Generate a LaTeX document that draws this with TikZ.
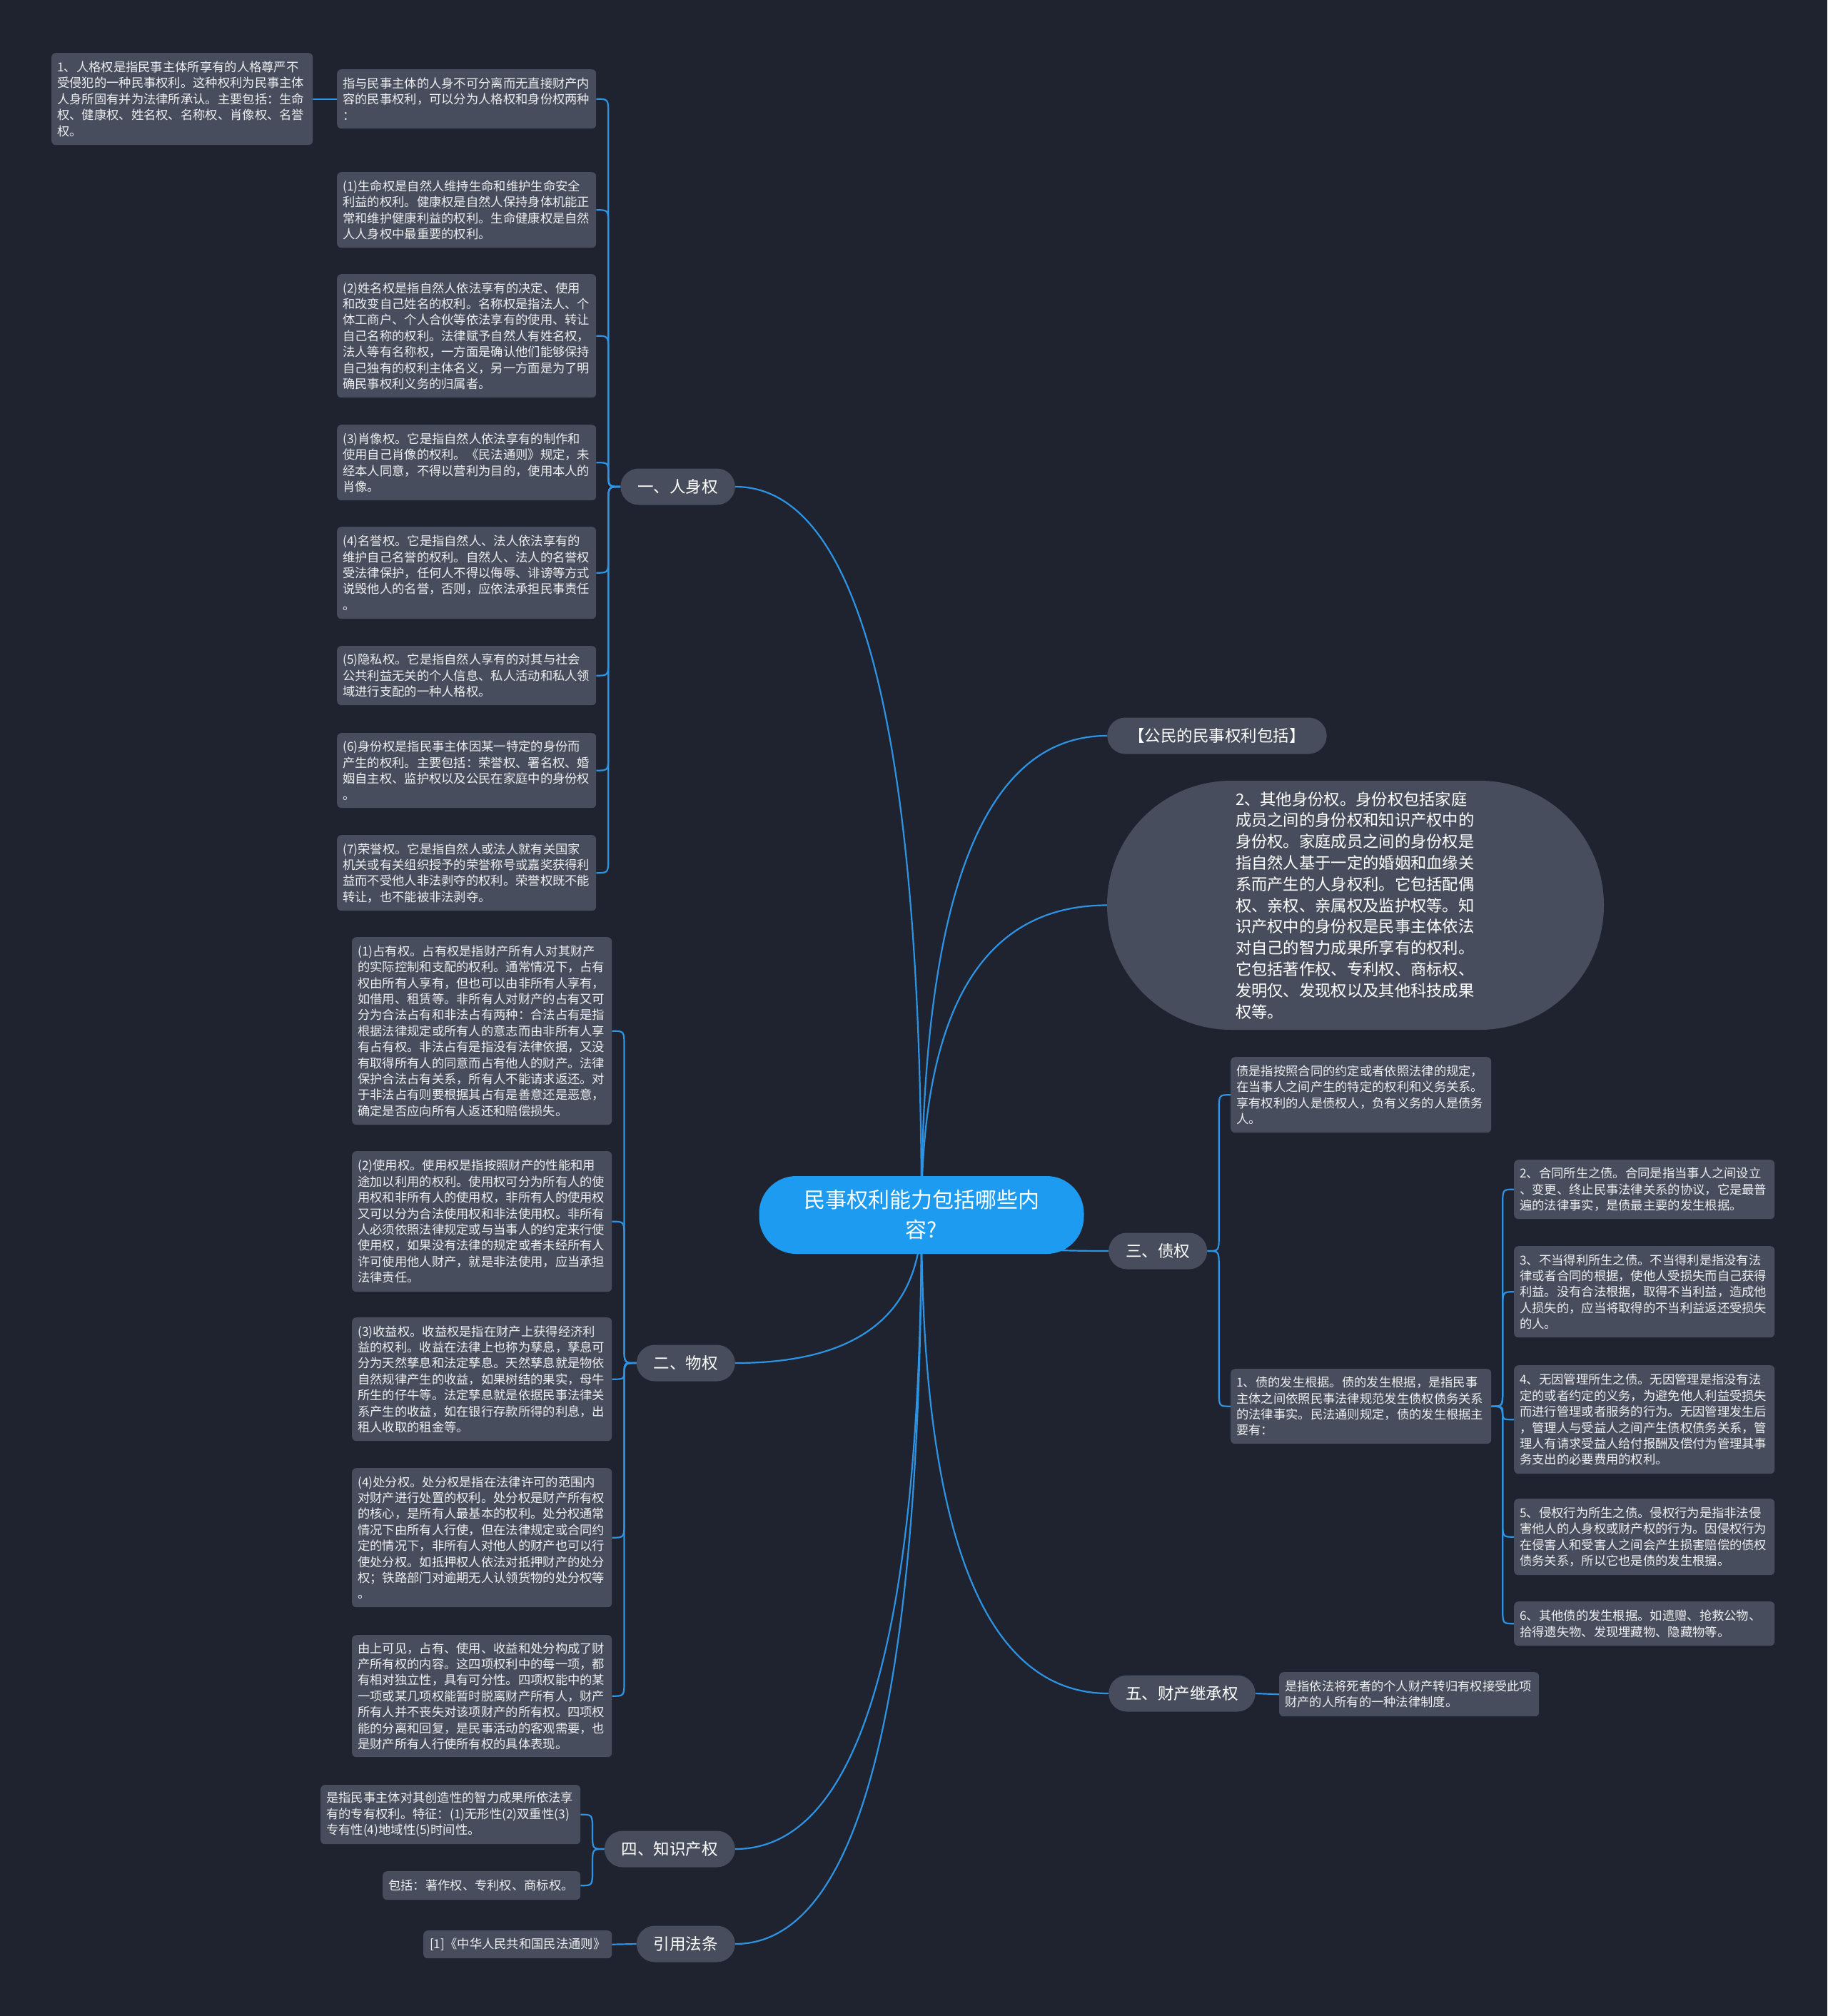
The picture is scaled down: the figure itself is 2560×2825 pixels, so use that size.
\documentclass[tikz,border=0pt]{standalone}
\usepackage{fontspec}
\setmainfont{Noto Sans CJK SC}
\usetikzlibrary{calc}
\definecolor{bgc}{HTML}{1F2330}
\definecolor{boxc}{HTML}{474D5C}
\definecolor{linec}{HTML}{2D93E3}
\definecolor{mainc}{HTML}{1D9BF0}
\definecolor{txtc}{HTML}{EDEEF0}
\pgfdeclarelayer{bglayer}
\pgfdeclarelayer{edgelayer}
\pgfsetlayers{bglayer,edgelayer,main}
\begin{document}
\begin{tikzpicture}[x=1pt,y=-1pt,
  box/.style={rectangle, rounded corners=6pt, fill=boxc, text=txtc, anchor=north west, align=left,
    inner xsep=8pt, inner ysep=3pt, font=\fontsize{17.3}{22.4}\selectfont},
  lvl/.style={rectangle, rounded corners=25.5pt, fill=boxc, text=white, minimum height=51pt,
    inner xsep=24pt, inner ysep=0pt, font=\fontsize{22.5}{28}\selectfont},
  edge/.style={draw=linec, line width=2.2pt},
  elbow/.style={to path={let \p1=(\tikztostart), \p2=(\tikztotarget),
      \n1={0.5*(\x1+\x2)}, \n2={sign(\y2-\y1)*min(22,0.5*abs(\y2-\y1))} in
      .. controls ({\n1*1pt},{\y1}) .. ({\n1*1pt},{\y1+\n2*1pt})
      -- ({\n1*1pt},{\y2-\n2*1pt})
      .. controls ({\n1*1pt},{\y2}) .. (\tikztotarget)}},
  qcurve/.style={to path={let \p1=(\tikztostart), \p2=(\tikztotarget) in
      .. controls ({\x1},{\y1+0.6667*(\y2-\y1)}) and ({\x2+0.6667*(\x1-\x2)},{\y2}) .. (\tikztotarget)}}
]
\useasboundingbox (0,0) rectangle (2560,2825);
\begin{pgfonlayer}{bglayer}
\fill[bgc] (0,0) rectangle (2560,2825);
\end{pgfonlayer}

% central node
\node[rectangle, rounded corners=52pt, fill=mainc, text=white, minimum width=455pt, minimum height=109pt,
  align=center, inner sep=0pt, font=\fontsize{30}{42}\selectfont] (c) at (1291,1702.5)
  {民事权利能力包括哪些内\\容?};

% level 1
\node[lvl, anchor=east] (rs) at (1030,682) {一、人身权};
\node[lvl, anchor=east] (wq) at (1030,1910) {二、物权};
\node[lvl, anchor=east] (ip) at (1030,2591) {四、知识产权};
\node[lvl, anchor=east] (yy) at (1030,2724) {引用法条};
\node[lvl, anchor=west, inner xsep=30pt] (gm) at (1551,1031) {【公民的民事权利包括】};
\node[lvl, anchor=west] (zq) at (1553,1753) {三、债权};
\node[lvl, anchor=west] (jc) at (1553,2373) {五、财产继承权};
\node[rectangle, rounded corners=174pt, fill=boxc, text=white, minimum width=696pt, minimum height=349pt,
  text width=336pt, align=left, inner sep=0pt, font=\fontsize{22.3}{29.8}\selectfont] (big) at (1899,1268.5)
  {2、其他身份权。身份权包括家庭\\成员之间的身份权和知识产权中的\\身份权。家庭成员之间的身份权是\\指自然人基于一定的婚姻和血缘关\\系而产生的人身权利。它包括配偶\\权、亲权、亲属权及监护权等。知\\识产权中的身份权是民事主体依法\\对自己的智力成果所享有的权利。\\它包括著作权、专利权、商标权、\\发明仅、发现权以及其他科技成果\\权等。};

% 人身权 branch
\node[box, text width=350pt, minimum height=129pt] (pa) at (72,74)
  {1、人格权是指民事主体所享有的人格尊严不\\受侵犯的一种民事权利。这种权利为民事主体\\人身所固有并为法律所承认。主要包括：生命\\权、健康权、姓名权、名称权、肖像权、名誉\\权。};
\node[box, text width=347pt, minimum height=83pt] (pb) at (472,97)
  {指与民事主体的人身不可分离而无直接财产内\\容的民事权利，可以分为人格权和身份权两种\\：};
\node[box, text width=347pt, minimum height=106pt] (r1) at (472,241)
  {(1)生命权是自然人维持生命和维护生命安全\\利益的权利。健康权是自然人保持身体机能正\\常和维护健康利益的权利。生命健康权是自然\\人人身权中最重要的权利。};
\node[box, text width=347pt, minimum height=173pt] (r2) at (472,384)
  {(2)姓名权是指自然人依法享有的决定、使用\\和改变自己姓名的权利。名称权是指法人、个\\体工商户、个人合伙等依法享有的使用、转让\\自己名称的权利。法律赋予自然人有姓名权，\\法人等有名称权，一方面是确认他们能够保持\\自己独有的权利主体名义，另一方面是为了明\\确民事权利义务的归属者。};
\node[box, text width=347pt, minimum height=106pt] (r3) at (472,595)
  {(3)肖像权。它是指自然人依法享有的制作和\\使用自己肖像的权利。《民法通则》规定，未\\经本人同意，不得以营利为目的，使用本人的\\肖像。};
\node[box, text width=347pt, minimum height=129pt] (r4) at (472,738)
  {(4)名誉权。它是指自然人、法人依法享有的\\维护自己名誉的权利。自然人、法人的名誉权\\受法律保护，任何人不得以侮辱、诽谤等方式\\说毁他人的名誉，否则，应依法承担民事责任\\。};
\node[box, text width=347pt, minimum height=83pt] (r5) at (472,905)
  {(5)隐私权。它是指自然人享有的对其与社会\\公共利益无关的个人信息、私人活动和私人领\\域进行支配的一种人格权。};
\node[box, text width=347pt, minimum height=105pt] (r6) at (472,1027)
  {(6)身份权是指民事主体因某一特定的身份而\\产生的权利。主要包括：荣誉权、署名权、婚\\姻自主权、监护权以及公民在家庭中的身份权\\。};
\node[box, text width=347pt, minimum height=106pt] (r7) at (472,1170)
  {(7)荣誉权。它是指自然人或法人就有关国家\\机关或有关组织授予的荣誉称号或嘉奖获得利\\益而不受他人非法剥夺的权利。荣誉权既不能\\转让，也不能被非法剥夺。};

% 物权 branch
\node[box, text width=348pt, minimum height=263pt] (w1) at (493,1313)
  {(1)占有权。占有权是指财产所有人对其财产\\的实际控制和支配的权利。通常情况下，占有\\权由所有人享有，但也可以由非所有人享有，\\如借用、租赁等。非所有人对财产的占有又可\\分为合法占有和非法占有两种：合法占有是指\\根据法律规定或所有人的意志而由非所有人享\\有占有权。非法占有是指没有法律依据，又没\\有取得所有人的同意而占有他人的财产。法律\\保护合法占有关系，所有人不能请求返还。对\\于非法占有则要根据其占有是善意还是恶意，\\确定是否应向所有人返还和赔偿损失。};
\node[box, text width=348pt, minimum height=197pt] (w2) at (493,1613)
  {(2)使用权。使用权是指按照财产的性能和用\\途加以利用的权利。使用权可分为所有人的使\\用权和非所有人的使用权，非所有人的使用权\\又可以分为合法使用权和非法使用权。非所有\\人必须依照法律规定或与当事人的约定来行使\\使用权，如果没有法律的规定或者未经所有人\\许可使用他人财产，就是非法使用，应当承担\\法律责任。};
\node[box, text width=348pt, minimum height=173pt] (w3) at (493,1846)
  {(3)收益权。收益权是指在财产上获得经济利\\益的权利。收益在法律上也称为孳息，孳息可\\分为天然孳息和法定孳息。天然孳息就是物依\\自然规律产生的收益，如果树结的果实，母牛\\所生的仔牛等。法定孳息就是依据民事法律关\\系产生的收益，如在银行存款所得的利息，出\\租人收取的租金等。};
\node[box, text width=348pt, minimum height=195pt] (w4) at (493,2057)
  {(4)处分权。处分权是指在法律许可的范围内\\对财产进行处置的权利。处分权是财产所有权\\的核心，是所有人最基本的权利。处分权通常\\情况下由所有人行使，但在法律规定或合同约\\定的情况下，非所有人对他人的财产也可以行\\使处分权。如抵押权人依法对抵押财产的处分\\权；铁路部门对逾期无人认领货物的处分权等\\。};
\node[box, text width=348pt, minimum height=171pt] (w5) at (493,2291)
  {由上可见，占有、使用、收益和处分构成了财\\产所有权的内容。这四项权利中的每一项，都\\有相对独立性，具有可分性。四项权能中的某\\一项或某几项权能暂时脱离财产所有人，财产\\所有人并不丧失对该项财产的所有权。四项权\\能的分离和回复，是民事活动的客观需要，也\\是财产所有人行使所有权的具体表现。};

% 知识产权 branch
\node[box, text width=348pt, minimum height=83pt] (ip1) at (449,2501)
  {是指民事主体对其创造性的智力成果所依法享\\有的专有权利。特征：(1)无形性(2)双重性(3)\\专有性(4)地域性(5)时间性。};
\node[box, text width=261pt, minimum height=40pt] (ip2) at (536,2622)
  {包括：著作权、专利权、商标权。};
\node[box, text width=248pt, minimum height=39pt, align=center] (law) at (593,2705)
  {[1]《中华人民共和国民法通则》};

% 债权 branch
\node[box, text width=349pt, minimum height=106pt] (z0) at (1724,1481)
  {债是指按照合同的约定或者依照法律的规定，\\在当事人之间产生的特定的权利和义务关系。\\享有权利的人是债权人，负有义务的人是债务\\人。};
\node[box, text width=349pt, minimum height=105pt] (z1) at (1724,1918)
  {1、债的发生根据。债的发生根据，是指民事\\主体之间依照民事法律规范发生债权债务关系\\的法律事实。民法通则规定，债的发生根据主\\要有：};
\node[box, text width=349pt, minimum height=83pt] (z2) at (2121,1625)
  {2、合同所生之债。合同是指当事人之间设立\\、变更、终止民事法律关系的协议，它是最普\\遍的法律事实，是债最主要的发生根据。};
\node[box, text width=349pt, minimum height=128pt] (z3) at (2121,1746)
  {3、不当得利所生之债。不当得利是指没有法\\律或者合同的根据，使他人受损失而自己获得\\利益。没有合法根据，取得不当利益，造成他\\人损失的，应当将取得的不当利益返还受损失\\的人。};
\node[box, text width=349pt, minimum height=152pt] (z4) at (2121,1913)
  {4、无因管理所生之债。无因管理是指没有法\\定的或者约定的义务，为避免他人利益受损失\\而进行管理或者服务的行为。无因管理发生后\\，管理人与受益人之间产生债权债务关系，管\\理人有请求受益人给付报酬及偿付为管理其事\\务支出的必要费用的权利。};
\node[box, text width=349pt, minimum height=107pt] (z5) at (2121,2100)
  {5、侵权行为所生之债。侵权行为是指非法侵\\害他人的人身权或财产权的行为。因侵权行为\\在侵害人和受害人之间会产生损害赔偿的债权\\债务关系，所以它也是债的发生根据。};
\node[box, text width=349pt, minimum height=62pt] (z6) at (2121,2244)
  {6、其他债的发生根据。如遗赠、抢救公物、\\拾得遗失物、发现埋藏物、隐藏物等。};

% 继承 branch
\node[box, text width=348pt, minimum height=62pt] (jc1) at (1792,2343)
  {是指依法将死者的个人财产转归有权接受此项\\财产的人所有的一种法律制度。};

% connectors
\begin{pgfonlayer}{edgelayer}
\draw[edge] (c.center) to[qcurve] (rs.east);
\draw[edge] (c.center) to[qcurve] (wq.east);
\draw[edge] (c.center) to[qcurve] (ip.east);
\draw[edge] (c.center) to[qcurve] (yy.east);
\draw[edge] (c.center) to[qcurve] (gm.west);
\draw[edge] (c.center) to[qcurve] (big.west);
\draw[edge] (c.center) to[qcurve] (zq.west);
\draw[edge] (c.center) to[qcurve] (jc.west);

\foreach \t in {pb,r1,r2,r3,r4,r5,r6,r7}
  \draw[edge] (rs.west) to[elbow] (\t.east);
\draw[edge] (pb.west) -- (pa.east);

\foreach \t in {w1,w2,w3,w4,w5}
  \draw[edge] (wq.west) to[elbow] (\t.east);

\foreach \t in {ip1,ip2}
  \draw[edge] (ip.west) to[elbow] (\t.east);
\draw[edge] (yy.west) -- (law.east);

\foreach \t in {z0,z1}
  \draw[edge] (zq.east) to[elbow] (\t.west);
\foreach \t in {z2,z3,z4,z5,z6}
  \draw[edge] (z1.east) to[elbow] (\t.west);
\draw[edge] (jc.east) -- (jc1.west);
\end{pgfonlayer}
\end{tikzpicture}
\end{document}
